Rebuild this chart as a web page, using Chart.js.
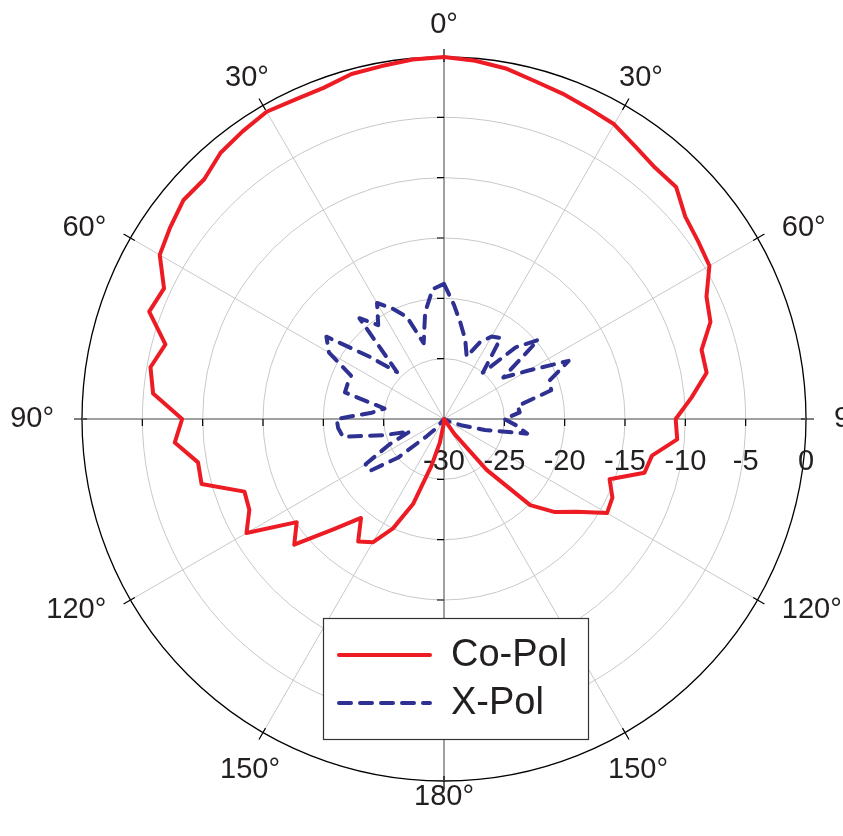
<!DOCTYPE html>
<html>
<head>
<meta charset="utf-8">
<script src="https://cdn.jsdelivr.net/npm/chart.js@4.4.1/dist/chart.umd.min.js"></script>
<style>
  html, body { margin: 0; padding: 0; background: #fff; }
  #chart { display: block; }
</style>
</head>
<body>
<canvas id="chart" width="843" height="836"></canvas>
<script>
// angle (deg, clockwise from top) of every sample
const angles = [
  0, 5, 10, 15, 20, 25, 30, 35, 40, 45, 50, 55,
  60, 65, 70, 75, 80, 85, 90, 95, 100, 105, 110, 115,
  120, 125, 130, 135, 140, 145, 150, 155, 160, 165, 170, 175,
  180, 185, 190, 195, 200, 205, 210, 215, 220, 225, 230, 235,
  240, 245, 250, 255, 260, 265, 270, 275, 280, 285, 290, 295,
  300, 305, 310, 315, 320, 325, 330, 335, 340, 345, 350, 355,
];

// normalised gain in dB
const coPol = [
  0, -0.2, -0.5, -1.0, -1.3, -1.6, -1.8, -2.4, -2.8, -2.8, -3.9, -4.3,
  -4.6, -6.0, -6.5, -7.9, -7.9, -9.4, -10.8, -10.6, -12.5, -12.8, -15.4, -14.6,
  -14.4, -16.6, -18.0, -19.9, -24.5, -28.5, -30, -30, -30, -30, -30, -30,
  -30, -29.5, -28.0, -26.0, -22.5, -20.0, -18.2, -17.6, -19.3, -17.1, -13.8, -15.1,
  -11.1, -12.2, -12.4, -9.2, -9.3, -7.6, -8.3, -5.8, -5.3, -6.1, -4.0, -4.4,
  -2.8, -2.3, -1.8, -1.9, -1.2, -0.9, -0.6, -0.8, -0.8, -0.4, -0.3, -0.1,
];

const xPol = [
  -18.8, -20.5, -22.0, -23.2, -24.5, -23.0, -22.1, -21.8, -25.0, -21.6, -19.8, -24.0,
  -22.0, -18.6, -20.7, -20.8, -23.8, -23.7, -25.0, -24.0, -23.0, -26.5, -28.5, -29.5,
  -30, -30, -30, -30, -30, -30, -30, -30, -30, -30, -30, -30,
  -30, -30, -30, -30, -30, -30, -30, -30, -29, -28, -25, -22.5,
  -22.5, -25, -27, -24.8, -21.5, -21.2, -21.1, -24, -25, -21.5, -21.5, -21.5,
  -19, -18.1, -22, -24.5, -19.1, -20.5, -18.9, -19.9, -21, -23.5, -21, -19.2,
];

const radialTicks = [-30, -25, -20, -15, -10, -5, 0];
const angleTicks = [0, 30, 60, 90, 120, 150, 180, 210, 240, 270, 300, 330];
const angleTickLabels = ['0°', '30°', '60°', '90°', '120°', '150°', '180°', '150°', '120°', '90°', '60°', '30°'];
const seriesNames = ['Co-Pol', 'X-Pol'];

const FONT = '"Liberation Sans", Arial, Helvetica, sans-serif';
const TEXT_COLOR = '#231f20';

// where the angle labels sit: horizontal / vertical distance from the centre
const labelPlacement = (angle, outer) => {
  if (angle === 180) {
    return { rx: outer, ry: outer + 16, align: 'center' };
  }
  if (angle === 150 || angle === 210) {
    return { rx: outer + 26, ry: outer + 43, align: 'center' };
  }
  if (angle % 180 >= 60 && angle % 180 <= 120) {
    return { rx: outer + 28, ry: outer + 20, align: angle < 180 ? 'left' : 'right' };
  }
  return { rx: outer + 32, ry: outer + 32, align: 'center' };
};

const polarDecor = {
  id: 'polarDecor',
  beforeDatasetsDraw(chart) {
    const { ctx } = chart;
    const scale = chart.scales.r;
    const cx = scale.xCenter;
    const cy = scale.yCenter;
    const outer = scale.getDistanceFromCenterForValue(0);

    ctx.save();
    ctx.strokeStyle = '#000';
    ctx.lineWidth = 1.2;
    ctx.beginPath();
    radialTicks.slice(1, -1).forEach((value) => {
      const d = scale.getDistanceFromCenterForValue(value);
      [cx + d, cx - d].forEach((x) => {
        ctx.moveTo(x, cy);
        ctx.lineTo(x, cy + 7);
      });
      [cy - d, cy + d].forEach((y) => {
        ctx.moveTo(cx, y);
        ctx.lineTo(cx - 7, y);
      });
    });
    angleTicks.forEach((angle) => {
      const index = angles.indexOf(angle);
      const p1 = scale.getPointPosition(index, outer - 5);
      const p2 = scale.getPointPosition(index, outer + 8);
      ctx.moveTo(p1.x, p1.y);
      ctx.lineTo(p2.x, p2.y);
    });
    ctx.stroke();

    ctx.fillStyle = TEXT_COLOR;
    ctx.font = `29px ${FONT}`;
    ctx.textBaseline = 'middle';
    ctx.textAlign = 'center';
    radialTicks.forEach((value) => {
      ctx.fillText(String(value), cx + scale.getDistanceFromCenterForValue(value), cy + 43);
    });

    angleTicks.forEach((angle, k) => {
      const index = angles.indexOf(angle);
      const { rx, ry, align } = labelPlacement(angle, outer);
      const px = scale.getPointPosition(index, rx);
      const py = scale.getPointPosition(index, ry);
      ctx.textAlign = align;
      ctx.fillText(angleTickLabels[k], px.x, py.y);
    });
    ctx.restore();
  },
  afterDraw(chart) {
    const { ctx } = chart;
    ctx.save();
    ctx.fillStyle = '#fff';
    ctx.fillRect(323, 618, 266, 122);
    ctx.strokeStyle = '#333';
    ctx.lineWidth = 1.2;
    ctx.strokeRect(323.5, 618.5, 265, 121);

    chart.data.datasets.forEach((dataset, k) => {
      const y = 655 + k * 48;
      ctx.strokeStyle = dataset.borderColor;
      ctx.lineWidth = dataset.borderWidth;
      ctx.lineCap = dataset.borderCapStyle || 'butt';
      ctx.setLineDash(dataset.borderDash || []);
      ctx.beginPath();
      ctx.moveTo(339, y);
      ctx.lineTo(430, y);
      ctx.stroke();
      ctx.setLineDash([]);
      ctx.fillStyle = TEXT_COLOR;
      ctx.font = `38px ${FONT}`;
      ctx.textAlign = 'left';
      ctx.textBaseline = 'middle';
      ctx.fillText(dataset.label, 451, y + 1);
    });
    ctx.restore();
  },
};

const isAxisSpoke = (index) => angles[index] % 90 === 0;
const isSpoke = (index) => angles[index] % 30 === 0;

new Chart(document.getElementById('chart'), {
  type: 'radar',
  data: {
    labels: angles,
    datasets: [
      {
        label: seriesNames[0],
        data: coPol,
        borderColor: '#ed1c24',
        borderWidth: 4,
        borderJoinStyle: 'round',
        borderCapStyle: 'round',
        pointRadius: 0,
        fill: false,
        tension: 0,
      },
      {
        label: seriesNames[1],
        data: xPol,
        borderColor: '#2e3192',
        borderWidth: 4,
        borderDash: [12, 9],
        borderJoinStyle: 'round',
        borderCapStyle: 'round',
        pointRadius: 0,
        fill: false,
        tension: 0,
      },
    ],
  },
  options: {
    responsive: false,
    devicePixelRatio: 1,
    animation: false,
    events: [],
    layout: { padding: { left: 82, right: 37, top: 57, bottom: 55 } },
    plugins: {
      legend: { display: false },
      tooltip: { enabled: false },
    },
    scales: {
      r: {
        min: -30,
        max: 0,
        startAngle: 0,
        ticks: { display: false, stepSize: 5 },
        pointLabels: { display: false },
        grid: {
          circular: true,
          color: (ctx) => (ctx.tick && ctx.tick.value === 0 ? '#000' : '#c8c8c8'),
          lineWidth: (ctx) => {
            if (!ctx.tick || ctx.tick.value === -30) {
              return 0;
            }
            return ctx.tick.value === 0 ? 1.3 : 1;
          },
        },
        angleLines: {
          display: true,
          color: (ctx) => (isAxisSpoke(ctx.index) ? '#a0a0a0' : '#c8c8c8'),
          lineWidth: (ctx) => {
            if (!isSpoke(ctx.index)) {
              return 0;
            }
            return isAxisSpoke(ctx.index) ? 2 : 1;
          },
        },
      },
    },
  },
  plugins: [polarDecor],
});
</script>
</body>
</html>
